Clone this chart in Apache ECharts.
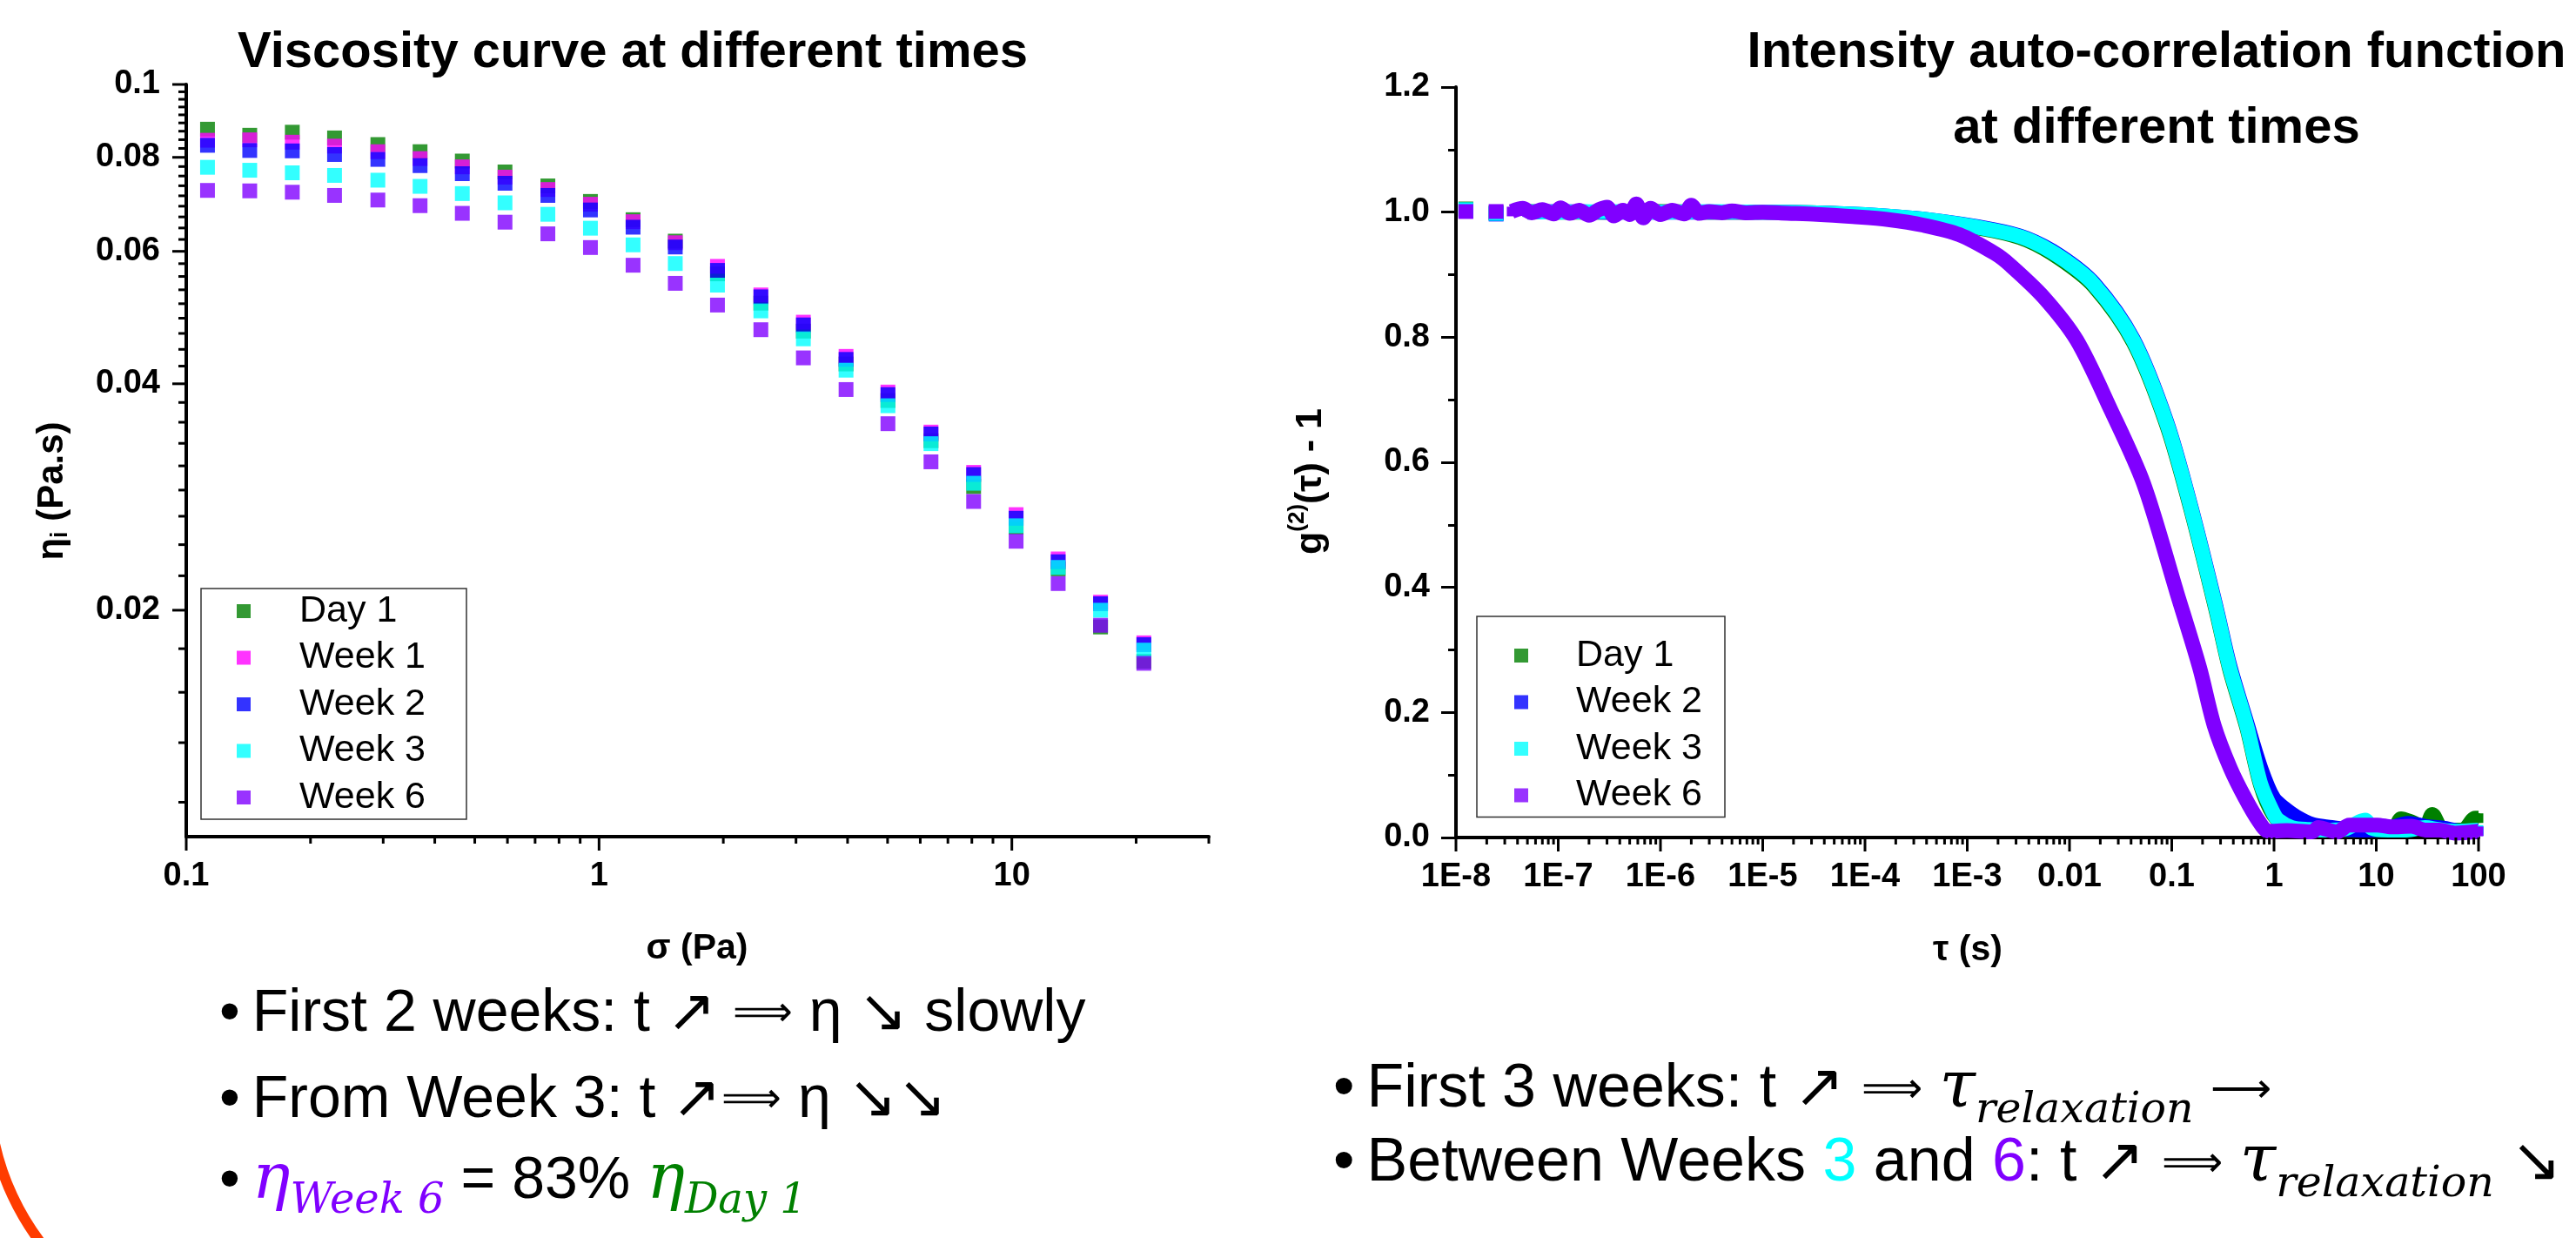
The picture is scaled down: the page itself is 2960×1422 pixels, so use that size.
<!DOCTYPE html>
<html><head><meta charset="utf-8">
<script src="https://cdn.jsdelivr.net/npm/echarts@6/dist/echarts.min.js"></script>
<style>html,body{margin:0;padding:0;background:#fff;} #c{width:2960px;height:1422px;}</style>
</head><body><div id="c"></div>
<script>
// ---------------- Left chart data: viscosity vs shear stress ----------------
const SIGMA = [0.1126, 0.1425, 0.1807, 0.2287, 0.2912, 0.3685, 0.4664, 0.5918, 0.7517, 0.9532, 1.209, 1.530, 1.936, 2.466, 3.126, 3.966, 5.01, 6.37, 8.08, 10.24, 12.95, 16.40, 20.88];
const ETA_DAY1  = [0.0872, 0.0856, 0.0864, 0.0849, 0.0832, 0.0814, 0.0791, 0.0765, 0.0733, 0.0699, 0.0661, 0.0619, 0.0560, 0.0512, 0.0470, 0.0425, 0.0380, 0.0336, 0.0292, 0.0258, 0.0227, 0.0190, 0.0171];
const ETA_WEEK1 = [0.0843, 0.0844, 0.0838, 0.0828, 0.0814, 0.0797, 0.0777, 0.0753, 0.0725, 0.0693, 0.0657, 0.0616, 0.0573, 0.0525, 0.0483, 0.0435, 0.0390, 0.0345, 0.0305, 0.0268, 0.0234, 0.0205, 0.0181];
const ETA_WEEK2 = [0.0830, 0.0817, 0.0816, 0.0807, 0.0795, 0.0780, 0.0761, 0.0739, 0.0712, 0.0681, 0.0646, 0.0608, 0.0566, 0.0522, 0.0479, 0.0431, 0.0387, 0.0343, 0.0303, 0.0265, 0.0232, 0.0204, 0.0180];
const ETA_WEEK3 = [0.0776, 0.0769, 0.0763, 0.0757, 0.0746, 0.0732, 0.0716, 0.0696, 0.0672, 0.0644, 0.0612, 0.0578, 0.0541, 0.0500, 0.0459, 0.0417, 0.0374, 0.0333, 0.0295, 0.0259, 0.0228, 0.0200, 0.0177];
const ETA_WEEK6 = [0.0723, 0.0722, 0.0719, 0.0712, 0.0702, 0.0690, 0.0674, 0.0656, 0.0633, 0.0607, 0.0575, 0.0544, 0.0509, 0.0472, 0.0433, 0.0393, 0.0354, 0.0315, 0.0279, 0.0247, 0.0217, 0.0191, 0.0170];

// ---------------- Right chart data: g2(tau) - 1 ----------------
const TAU_DAY1 = [1.25e-8, 2.47e-8, 5e-8, 1e-7, 3e-7, 1e-6, 3e-6, 1e-5, 3.4e-5, 1e-4, 4.05e-4, 1.82e-3, 3.84e-3, 8.13e-3, 0.0172, 0.042, 0.0895, 0.1535, 0.272, 0.368, 0.541, 0.741, 0.98, 1.3, 2.0, 5.0, 10, 15, 17.5, 22, 30, 35.3, 45, 70, 92.7, 100];
const G_DAY1   = [1.005, 0.999, 1.001, 1.000, 1.000, 1.001, 1.000, 1.000, 0.999, 0.995, 0.987, 0.970, 0.955, 0.925, 0.882, 0.792, 0.659, 0.525, 0.362, 0.269, 0.176, 0.083, 0.037, 0.020, 0.013, 0.012, 0.012, 0.015, 0.030, 0.025, 0.016, 0.037, 0.012, 0.012, 0.031, 0.031];
const TAU_WEEK2 = [1.25e-8, 2.47e-8, 5e-8, 1e-7, 3e-7, 1e-6, 3e-6, 1e-5, 3.4e-5, 1e-4, 4.05e-4, 1.82e-3, 3.84e-3, 8.13e-3, 0.0172, 0.042, 0.0895, 0.1535, 0.272, 0.368, 0.541, 0.746, 0.99, 1.3, 1.66, 2.35, 3.33, 5, 8, 12, 20.6, 30, 45, 70, 100];
const G_WEEK2   = [1.002, 0.997, 1.000, 1.001, 1.000, 1.000, 1.000, 1.000, 0.999, 0.996, 0.988, 0.972, 0.958, 0.930, 0.887, 0.797, 0.664, 0.530, 0.368, 0.276, 0.184, 0.110, 0.063, 0.045, 0.033, 0.021, 0.017, 0.013, 0.012, 0.013, 0.0225, 0.018, 0.015, 0.010, 0.010];
const TAU_WEEK3 = [1.25e-8, 2.47e-8, 5e-8, 1e-7, 3e-7, 1e-6, 3e-6, 1e-5, 3.4e-5, 1e-4, 4.05e-4, 1.82e-3, 3.84e-3, 8.13e-3, 0.0172, 0.042, 0.0895, 0.1535, 0.272, 0.368, 0.541, 0.741, 0.98, 1.1, 1.5, 2.2, 3.2, 5, 6.8, 7.8, 9, 13, 20, 30, 40, 60, 100];
const G_WEEK3   = [1.004, 0.998, 1.001, 1.000, 1.001, 1.000, 1.001, 1.000, 0.999, 0.996, 0.988, 0.971, 0.957, 0.928, 0.885, 0.795, 0.662, 0.528, 0.365, 0.272, 0.179, 0.086, 0.040, 0.028, 0.016, 0.013, 0.012, 0.014, 0.025, 0.028, 0.015, 0.012, 0.012, 0.016, 0.013, 0.010, 0.012];
const TAU_WEEK6 = [1.25e-8, 2.47e-8, 3.5e-8, 4.5e-8, 5.5e-8, 7e-8, 9e-8, 1.05e-7, 1.3e-7, 1.6e-7, 2.0e-7, 2.5e-7, 3.0e-7, 3.5e-7, 4.3e-7, 5.0e-7, 5.8e-7, 6.8e-7, 8e-7, 1.0e-6, 1.3e-6, 1.7e-6, 2.0e-6, 2.4e-6, 3.0e-6, 4e-6, 5e-6, 7e-6, 1.0e-5, 1.53e-5, 3.4e-5, 7.6e-5, 1.69e-4, 3.75e-4, 8.35e-4, 1.86e-3, 2.64e-3, 5.58e-3, 0.0118, 0.025, 0.053, 0.112, 0.187, 0.26, 0.376, 0.522, 0.71, 0.88, 1.34, 2.35, 2.71, 4.12, 5.45, 7.47, 10.2, 14.0, 22.1, 30, 41.5, 58.8, 100];
const G_WEEK6   = [1.001, 1.001, 1.001, 1.006, 0.999, 1.004, 0.997, 1.007, 0.998, 1.003, 0.995, 1.004, 1.008, 0.994, 1.003, 0.996, 1.013, 0.991, 1.006, 0.996, 1.003, 0.997, 1.011, 0.998, 1.001, 0.999, 1.002, 0.999, 1.000, 0.9985, 0.9965, 0.9928, 0.988, 0.979, 0.964, 0.934, 0.915, 0.864, 0.795, 0.686, 0.566, 0.392, 0.272, 0.179, 0.110, 0.063, 0.026, 0.010, 0.011, 0.009, 0.016, 0.009, 0.020, 0.020, 0.020, 0.017, 0.018, 0.012, 0.012, 0.007, 0.010];

// ---------------- Axes: ranges and tick labels ----------------
const X1_MIN = 0.1, X1_MAX = 30, Y1_MIN = 0.01, Y1_MAX = 0.1;
const X1_MAJOR = [0.1, 1, 10];
const X1_LABELS = ['0.1', '1', '10'];
const X1_MINOR = [0.2, 0.3, 0.4, 0.5, 0.6, 0.7, 0.8, 0.9, 2, 3, 4, 5, 6, 7, 8, 9, 20, 30];
const Y1_MAJOR = [0.02, 0.04, 0.06, 0.08, 0.1];
const Y1_LABELS = ['0.02', '0.04', '0.06', '0.08', '0.1'];
const X2_MIN = 1e-8, X2_MAX = 100;
const X2_MAJOR = [1e-8, 1e-7, 1e-6, 1e-5, 1e-4, 1e-3, 0.01, 0.1, 1, 10, 100];
const X2_LABELS = ['1E-8', '1E-7', '1E-6', '1E-5', '1E-4', '1E-3', '0.01', '0.1', '1', '10', '100'];
const Y2_LABELS = ['0.0', '0.2', '0.4', '0.6', '0.8', '1.0', '1.2'];

const NAMES = ['Day 1', 'Week 1', 'Week 2', 'Week 3', 'Week 6'];
const COLORS = {'Day 1': '#008000', 'Week 1': '#FF00FF', 'Week 2': '#0000FF', 'Week 3': '#00FFFF', 'Week 6': '#8000FF'};

const FONT = '"Liberation Sans", Arial, Helvetica, sans-serif';
const MATH = '"DejaVu Serif", "Liberation Serif", serif';
const TICK_FS = 38;

// minor ticks of the linear-labelled log y axis (8 minor per major step)
const Y1_MINOR = [];
for (let i = 0; i < Y1_MAJOR.length - 1; i++) {
  const a = Y1_MAJOR[i], b = Y1_MAJOR[i + 1];
  for (let k = 1; k <= 8; k++) Y1_MINOR.push(a + (b - a) * k / 9);
}
for (let k = 1; k <= 4; k++) Y1_MINOR.push(Y1_MAJOR[0] - Y1_MAJOR[0] * k / 9);
const X2_MINOR = [];
for (let e = -8; e <= 1; e++) for (let k = 2; k <= 9; k++) X2_MINOR.push(k * Math.pow(10, e));

function tickRender(orient, labels) {
  return function (params, api) {
    const p = api.coord([api.value(0), api.value(1)]);
    const len = api.value(2), li = api.value(3);
    const ch = [];
    if (orient === 'x') {
      ch.push({type: 'line', shape: {x1: p[0], y1: p[1], x2: p[0], y2: p[1] + len}, style: {stroke: '#000', lineWidth: 3}});
      if (li >= 0) ch.push({type: 'text', x: p[0], y: p[1] + 46, style: {text: labels[li], fill: '#000', fontSize: TICK_FS, fontWeight: 'bold', fontFamily: FONT, align: 'center', verticalAlign: 'middle'}});
    } else {
      ch.push({type: 'line', shape: {x1: p[0], y1: p[1], x2: p[0] - len, y2: p[1]}, style: {stroke: '#000', lineWidth: 3}});
      if (li >= 0) ch.push({type: 'text', x: p[0] - 30, y: p[1], style: {text: labels[li], fill: '#000', fontSize: TICK_FS, fontWeight: 'bold', fontFamily: FONT, align: 'right', verticalAlign: 'middle'}});
    }
    return {type: 'group', children: ch};
  };
}
function tickSeries(name, gi, orient, items, labels) {
  return {type: 'custom', name: name, xAxisIndex: gi, yAxisIndex: gi, silent: true, clip: false, z: 20,
    encode: {x: 0, y: 1}, data: items, renderItem: tickRender(orient, labels), tooltip: {show: false}};
}

function withBreaks(taus, gs) {
  const d = taus.map((t, i) => [t, gs[i]]);
  return [d[0], [taus[0], '-'], d[1], [taus[1], '-']].concat(d.slice(2));
}

const series = [];
const LEFT = [['Day 1', ETA_DAY1], ['Week 1', ETA_WEEK1], ['Week 2', ETA_WEEK2], ['Week 3', ETA_WEEK3], ['Week 6', ETA_WEEK6]];
LEFT.forEach(([n, arr], k) => series.push({
  type: 'scatter', name: n, xAxisIndex: 0, yAxisIndex: 0, symbol: 'rect', symbolSize: 17,
  itemStyle: {color: COLORS[n]}, emphasis: {disabled: true}, z: 3 + k,
  data: SIGMA.map((s, i) => [s, arr[i]])
}));
const RIGHT = [['Day 1', TAU_DAY1, G_DAY1], ['Week 2', TAU_WEEK2, G_WEEK2], ['Week 3', TAU_WEEK3, G_WEEK3], ['Week 6', TAU_WEEK6, G_WEEK6]];
RIGHT.forEach(([n, t, g], k) => series.push({
  type: 'line', name: n, xAxisIndex: 1, yAxisIndex: 1, symbol: 'rect', showSymbol: true,
  smooth: 0.3,
  // isolated first points are full squares; squares on the band are kept inside the line width
  symbolSize: (val, params) => (params.dataIndex < 4 ? 17 : 11),
  itemStyle: {color: COLORS[n], borderWidth: 0}, lineStyle: {color: COLORS[n], width: 17}, emphasis: {disabled: true}, z: 3 + k,
  data: withBreaks(t, g)
}));

series.push(tickSeries('x1ticks', 0, 'x',
  X1_MAJOR.map((v, i) => [v, Y1_MIN, 16, i]).concat(X1_MINOR.map(v => [v, Y1_MIN, 8, -1])), X1_LABELS));
series.push(tickSeries('y1ticks', 0, 'y',
  Y1_MAJOR.map((v, i) => [X1_MIN, v, 16, i]).concat(Y1_MINOR.map(v => [X1_MIN, v, 9, -1])), Y1_LABELS));
series.push(tickSeries('x2ticks', 1, 'x',
  X2_MAJOR.map((v, i) => [v, 0, 16, i]).concat(X2_MINOR.map(v => [v, 0, 8, -1])), X2_LABELS));

const axisLine = {show: true, onZero: false, lineStyle: {color: '#000', width: 4}};
const legendBase = {orient: 'vertical', icon: 'rect', itemWidth: 16, itemHeight: 16, itemGap: 3.5,
  borderColor: '#333', borderWidth: 1.5, selectedMode: false, backgroundColor: '#fff', z: 30};

function txt(x, y, text, font, extra) {
  return Object.assign({type: 'text', x: x, y: y, silent: true,
    style: {text: text, font: font, fill: '#000', align: 'center', verticalAlign: 'middle', textAlign: 'center', textVerticalAlign: 'middle'}}, extra || {});
}
function richTxt(x, y, text, rich, extra) {
  return Object.assign({type: 'text', x: x, y: y, silent: true,
    style: {text: text, rich: rich, fill: '#000', align: 'left', verticalAlign: 'middle', textAlign: 'left', textVerticalAlign: 'middle'}}, extra || {});
}
function makeRich(B) {
  const LH = 84, MF = Math.round(B * 1.07), SF = Math.round(B * 0.7), SP = 48;
  return {
    t: {fontSize: B, fontFamily: FONT, fill: '#000', lineHeight: LH},
    a: {fontSize: Math.round(B * 0.7), fontFamily: FONT, fill: '#000', lineHeight: LH},
    p: {fontSize: B, fontFamily: FONT, width: 14, lineHeight: LH},
    c: {fontSize: B, fontFamily: FONT, fill: '#00FFFF', lineHeight: LH},
    v: {fontSize: B, fontFamily: FONT, fill: '#8000FF', lineHeight: LH},
    m: {fontSize: MF, fontFamily: MATH, fontStyle: 'italic', fill: '#000', lineHeight: LH},
    s: {fontSize: SF, fontFamily: MATH, fontStyle: 'italic', fill: '#000', lineHeight: LH, padding: [SP, 0, 0, 0]},
    mv: {fontSize: MF, fontFamily: MATH, fontStyle: 'italic', fill: '#8000FF', lineHeight: LH},
    sv: {fontSize: SF, fontFamily: MATH, fontStyle: 'italic', fill: '#8000FF', lineHeight: LH, padding: [SP, 0, 0, 0]},
    mg: {fontSize: MF, fontFamily: MATH, fontStyle: 'italic', fill: '#008000', lineHeight: LH},
    sg: {fontSize: SF, fontFamily: MATH, fontStyle: 'italic', fill: '#008000', lineHeight: LH, padding: [SP, 0, 0, 0]}
  };
}
const richL = makeRich(68), richR = makeRich(70);

const option = {
  backgroundColor: '#fff',
  animation: false,
  grid: [
    {left: 214, top: 97, width: 1175, height: 864, containLabel: false, outerBoundsMode: 'none'},
    {left: 1673, top: 100, width: 1175, height: 862, containLabel: false, outerBoundsMode: 'none'}
  ],
  xAxis: [
    {type: 'log', logBase: 10, gridIndex: 0, min: X1_MIN, max: X1_MAX, axisLine: axisLine,
      axisTick: {show: false}, axisLabel: {show: false}, splitLine: {show: false}, minorTick: {show: false}},
    {type: 'log', logBase: 10, gridIndex: 1, min: X2_MIN, max: X2_MAX, axisLine: axisLine,
      axisTick: {show: false}, axisLabel: {show: false}, splitLine: {show: false}, minorTick: {show: false}}
  ],
  yAxis: [
    {type: 'log', logBase: 10, gridIndex: 0, min: Y1_MIN, max: Y1_MAX, axisLine: axisLine,
      axisTick: {show: false}, axisLabel: {show: false}, splitLine: {show: false}, minorTick: {show: false}},
    {type: 'value', gridIndex: 1, min: 0, max: 1.2, interval: 0.2, axisLine: axisLine,
      axisTick: {show: true, inside: false, length: 17, lineStyle: {color: '#000', width: 3}},
      minorTick: {show: true, splitNumber: 2, length: 9, lineStyle: {color: '#000', width: 3}},
      splitLine: {show: false}, minorSplitLine: {show: false},
      axisLabel: {show: true, margin: 30, color: '#000', fontSize: TICK_FS, fontWeight: 'bold', fontFamily: FONT,
        formatter: v => Y2_LABELS[Math.round(v / 0.2)]}}
  ],
  legend: [
    Object.assign({}, legendBase, {data: NAMES, left: 231, top: 676, padding: [1, 47, 0, 41],
      textStyle: {fontSize: 43, fontFamily: FONT, color: '#000', lineHeight: 50, padding: [0, 0, 0, 51]}}),
    Object.assign({}, legendBase, {data: ['Day 1', 'Week 2', 'Week 3', 'Week 6'], left: 1697, top: 708, padding: [20, 26, 0, 43],
      textStyle: {fontSize: 43, fontFamily: FONT, color: '#000', lineHeight: 50, padding: [0, 0, 0, 50]}})
  ],
  series: series,
  graphic: {elements: [
    txt(727, 61, 'Viscosity curve at different times', 'bold 58px ' + FONT),
    txt(2478, 61, 'Intensity auto-correlation function', 'bold 58px ' + FONT),
    txt(2478, 148, 'at different times', 'bold 58px ' + FONT),
    txt(801, 1090, 'σ (Pa)', 'bold 41px ' + FONT),
    txt(2261, 1092, 'τ (s)', 'bold 41px ' + FONT),
    {type: 'text', x: 60, y: 564, rotation: Math.PI / 2, silent: true,
      style: {text: '{a|η}{s|i}{a| (Pa.s)}', align: 'center', verticalAlign: 'middle', textAlign: 'center', textVerticalAlign: 'middle',
        rich: {a: {fontSize: 42, fontWeight: 'bold', fontFamily: FONT, fill: '#000', lineHeight: 52},
               s: {fontSize: 27, fontWeight: 'bold', fontFamily: FONT, fill: '#000', lineHeight: 52, padding: [20, 0, 0, 0]}}}},
    {type: 'text', x: 1506, y: 553, rotation: Math.PI / 2, silent: true,
      style: {text: '{a|g}{u|(2)}{a|(τ) - 1}', align: 'center', verticalAlign: 'middle', textAlign: 'center', textVerticalAlign: 'middle',
        rich: {a: {fontSize: 43, fontWeight: 'bold', fontFamily: FONT, fill: '#000', lineHeight: 52},
               u: {fontSize: 26, fontWeight: 'bold', fontFamily: FONT, fill: '#000', lineHeight: 52, padding: [0, 0, 30, 0]}}}},
    richTxt(252, 1165, '{t|•}{p| }{t|First 2 weeks: t ↗ }{a|⟹}{t| η ↘ slowly}', richL),
    richTxt(252, 1264, '{t|•}{p| }{t|From Week 3: t ↗}{a|⟹}{t| η ↘↘}', richL),
    richTxt(252, 1357, '{t|•}{p| }{mv|η}{sv|Week 6}{t| = 83% }{mg|η}{sg|Day 1}', richL),
    richTxt(1532, 1252, '{t|•}{p| }{t|First 3 weeks: t ↗ }{a|⟹}{t| }{m|τ}{s|relaxation}{t| }{a|⟶}', richR),
    richTxt(1532, 1337, '{t|•}{p| }{t|Between Weeks }{c|3}{t| and }{v|6}{t|: t ↗ }{a|⟹}{t| }{m|τ}{s|relaxation}{t| ↘}', richR),
    {type: 'arc', silent: true, shape: {cx: 280, cy: 1250, r: 293, startAngle: 135 * Math.PI / 180, endAngle: 175 * Math.PI / 180, clockwise: true},
      style: {stroke: '#FF3C00', lineWidth: 12, fill: 'none'}}
  ]}
};

const chart = echarts.init(document.getElementById('c'), null, {renderer: 'canvas'});
chart.setOption(option);
</script></body></html>
